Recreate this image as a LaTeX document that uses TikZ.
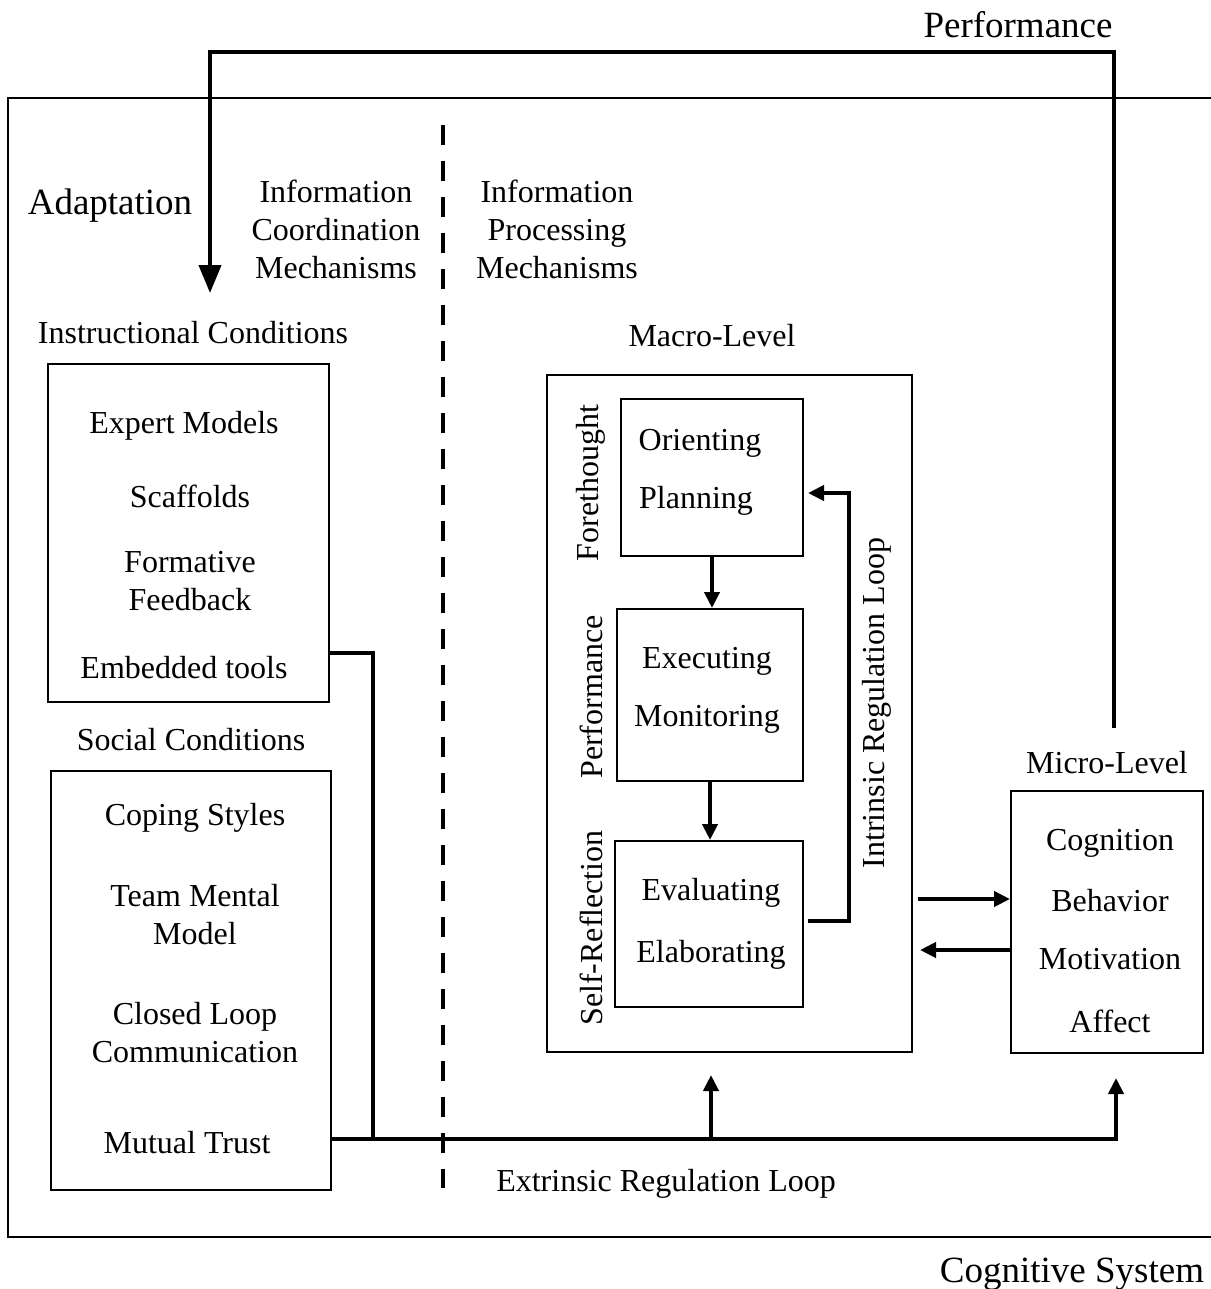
\documentclass[tikz,border=0pt]{standalone}
\usepackage{fontspec}
\setmainfont{Liberation Serif}
\usetikzlibrary{arrows.meta}

\begin{document}
\begin{tikzpicture}[x=0.5pt, y=-0.5pt, line width=1pt,
      every node/.append style={font=\fontsize{16}{19}\selectfont, inner sep=0pt, align=center},
      flow/.style={line width=2pt, -{Triangle[length=8pt,width=7.5pt]}},
      thickline/.style={line width=2pt},
      big/.style={font=\fontsize{18.5}{22}\selectfont}]
      \tikzstyle{box} = [draw, line width=1pt, rectangle]
      \useasboundingbox (0,0) rectangle (1210,1289);
      \draw (1212,98) -- (8,98) -- (8,1237) -- (1212,1237);
      \node[big] (perform) at (1018,25) {Performance};
      \node[big] (adapt) at (110,206) {Adaptation};
      \node (coordmech) at (336,229) {Information\\Coordination\\Mechanisms};
      \node (procmech) at (557,229) {Information\\Processing\\Mechanisms};
      \draw[line width=2pt, dash pattern=on 10pt off 8pt] (443,125) -- (443,1188);
      \node (instr) at (193,333) {Instructional Conditions};
      \node[box, minimum width=140.5pt, minimum height=169pt] (ic) at (188.5,533) {};
      \node (expert) at (184,426) {Expert Models};
      \node (scaff) at (190,496) {Scaffolds};
      \node (formfb) at (190,581) {Formative\\Feedback};
      \node (embed) at (184,668) {Embedded tools};
      \node (social) at (191,740) {Social Conditions};
      \node[box, minimum width=140pt, minimum height=209.5pt] (sc) at (191,980.5) {};
      \node (coping) at (195,818) {Coping Styles};
      \node (tmm) at (195,915) {Team Mental\\Model};
      \node (cloop) at (195,1033) {Closed Loop\\Communication};
      \node (trust) at (187,1143) {Mutual Trust};
      \node (macrolbl) at (712,336) {Macro-Level};
      \node[box, minimum width=182.5pt, minimum height=338.5pt] (macro) at (729.5,713.5) {};
      \node[box, minimum width=91pt, minimum height=78.5pt] (fore) at (712,477.5) {};
      \node (orient) at (700,443) {Orienting};
      \node (plan) at (696,501) {Planning};
      \node[box, minimum width=93pt, minimum height=86pt] (perf) at (710,695) {};
      \node (exec) at (707,661) {Executing};
      \node (monit) at (707,719) {Monitoring};
      \node[box, minimum width=94pt, minimum height=83pt] (refl) at (709,924) {};
      \node (evalu) at (711,893) {Evaluating};
      \node (elab) at (711,955) {Elaborating};
      \node[rotate=90] (forelbl) at (591,483) {Forethought};
      \node[rotate=90] (perflbl) at (591,697) {Performance};
      \node[rotate=90] (refllbl) at (591,928) {Self-Reflection};
      \node[rotate=90] (intrlbl) at (877,703) {Intrinsic Regulation Loop};
      \node (microlbl) at (1107,763) {Micro-Level};
      \node[box, minimum width=96pt, minimum height=131pt] (micro) at (1107,922) {};
      \node (cogn) at (1110,843) {Cognition};
      \node (behav) at (1110,901) {Behavior};
      \node (motiv) at (1110,959) {Motivation};
      \node (affect) at (1110,1021) {Affect};
      \node (extr) at (666,1184) {Extrinsic Regulation Loop};
      \node[big] (cogsys) at (1072,1274) {Cognitive System};
      \coordinate (loopstart) at (1114,728);
      \coordinate (adapttip) at (210,293);
      \coordinate (embout) at (329,653);
      \coordinate (trustout) at (331,1139);
      \coordinate (joint) at (373,1139);
      \coordinate (macrotip) at (711,1075);
      \coordinate (microtip) at (1116,1078);
      \coordinate (reflout) at (808,921);
      \coordinate (forein) at (808,493);
      \coordinate (tomicro) at (918,899);
      \coordinate (tomacro) at (920,950);
      \draw[thickline, -{Triangle[length=14pt,width=11pt]}] (loopstart) -- (1114,52) -- (210,52) -- (adapttip);
      \draw[thickline] (embout) -| (joint);
      \draw[flow] (trustout) -| (microtip);
      \draw[flow] (macrotip |- trustout) -- (macrotip);
      \draw[flow] (fore.south) -- (fore.south |- perf.north);
      \draw[flow] (perf.south) -- (perf.south |- refl.north);
      \draw[flow] (reflout) -- (849,921) -- (849,493) -- (forein);
      \draw[flow] (tomicro) -- (tomicro -| micro.west);
      \draw[flow] (micro.west |- tomacro) -- (tomacro);
\end{tikzpicture}
\end{document}
